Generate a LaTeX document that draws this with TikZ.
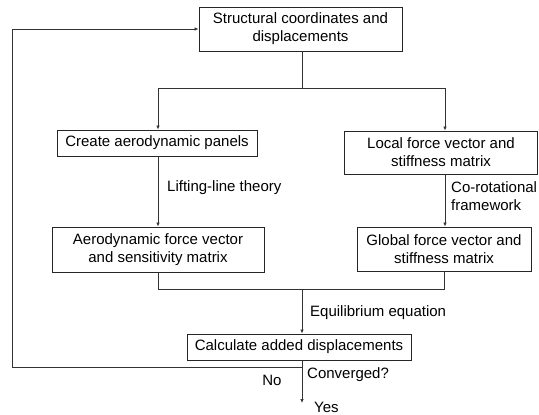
\documentclass[tikz,border=0pt]{standalone}
\usepackage{fontspec}
\setmainfont{Liberation Sans}
\usetikzlibrary{arrows.meta,calc}
\begin{document}
\begin{tikzpicture}[x=1pt,y=-1pt,
  every node/.style={font=\fontsize{15}{18}\selectfont},
  box/.style={draw=black!85,line width=0.95pt,align=center,inner sep=0pt,fill=white},
  lbl/.style={inner sep=0pt,align=left},
  conn/.style={draw=black!80,line width=0.7pt},
  arr/.style={conn,-{Latex[length=4pt,width=3.5pt]}}]
\useasboundingbox (0,0) rectangle (539,415);
% boxes
\node[box,minimum width=203pt,minimum height=44pt] (top) at (300.5,29) {Structural coordinates and\\displacements};
\node[box,minimum width=200pt,minimum height=26pt] (create) at (157,143) {Create aerodynamic panels};
\node[box,minimum width=193pt,minimum height=43pt] (local) at (441,152.5) {Local force vector and\\stiffness matrix};
\node[box,minimum width=212pt,minimum height=45pt] (aero) at (158,249.5) {Aerodynamic force vector\\and sensitivity matrix};
\node[box,minimum width=174pt,minimum height=44pt] (global) at (444,249) {Global force vector and\\stiffness matrix};
\node[box,minimum width=224pt,minimum height=26pt] (calc) at (299,347) {Calculate added displacements};
% labels
\node[lbl,anchor=west] (llt) at (167,188) {Lifting-line theory};
\node[lbl,anchor=west] (corot) at (451,196) {Co-rotational\\framework};
\node[lbl,anchor=west] (equil) at (310,313) {Equilibrium equation};
\node[lbl] (no) at (272,380) {No};
\node[lbl,anchor=west] (conv) at (307,375) {Converged?};
\node[lbl,anchor=west] (yes) at (314,407) {Yes};
% coordinates
\coordinate (sp) at (302,88);
\coordinate (cL) at (158,88);
\coordinate (cR) at (445,88);
\coordinate (mL) at (158,289);
\coordinate (mR) at (444,289);
\coordinate (mC) at (302,289);
\coordinate (nb) at (302,367);
\coordinate (lb) at (12,367);
\coordinate (lt) at (12,29);
\coordinate (end) at (302,403);
% connectors
\draw[conn] (top.south -| sp) -- (sp);
\draw[conn] (cL) -- (cR);
\draw[arr] (cL) -- (create.north -| cL);
\draw[arr] (cR) -- (local.north -| cR);
\draw[arr] (create.south -| cL) -- (aero.north -| cL);
\draw[arr] (local.south -| cR) -- (global.north -| cR);
\draw[conn] (aero.south -| mL) -- (mL) -- (mR) -- (global.south -| mR);
\draw[arr] (mC) -- (calc.north -| mC);
\draw[arr] (calc.south -| nb) -- (end);
\draw[arr] (nb) -- (lb) -- (lt) -- (top.west);
\end{tikzpicture}
\end{document}
